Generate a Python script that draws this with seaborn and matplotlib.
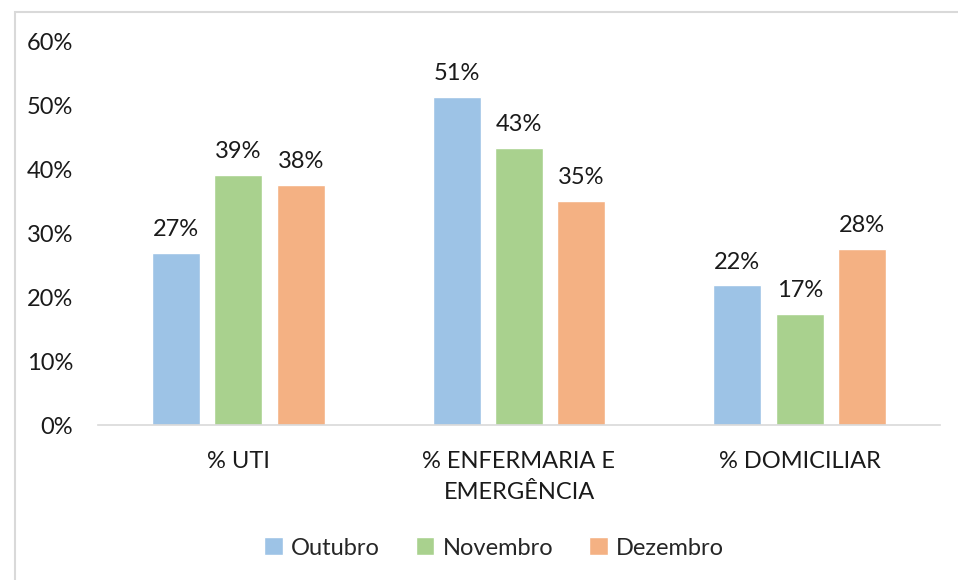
import matplotlib
matplotlib.use("Agg")
import matplotlib.pyplot as plt
from matplotlib.patches import Rectangle
import seaborn as sns
import pandas as pd

categories = ["% UTI", "% ENFERMARIA E\nEMERGÊNCIA", "% DOMICILIAR"]
months = ["Outubro", "Novembro", "Dezembro"]
outubro = [0.270, 0.514, 0.219]
novembro = [0.392, 0.434, 0.174]
dezembro = [0.376, 0.351, 0.276]
colors = ["#9DC3E6", "#A9D18E", "#F4B183"]

df = pd.DataFrame({
    "categoria": categories * 3,
    "mes": [m for m in months for _ in categories],
    "valor": outubro + novembro + dezembro,
})

sns.set_style("white")
plt.rcParams["font.family"] = ["Lato", "DejaVu Sans"]
fs = 17

fig = plt.figure(figsize=(9.58, 5.8), dpi=100)
ax = fig.add_axes([98 / 958, 1 - 425 / 580, (940 - 98) / 958, (425 - 42) / 580])

sns.barplot(data=df, x="categoria", y="valor", hue="mes", order=categories,
            hue_order=months, palette=colors, width=0.667, gap=0.23,
            saturation=1, ax=ax, legend=True)

for cont in ax.containers:
    ax.bar_label(cont, labels=[f"{v * 100:.0f}%" for v in cont.datavalues],
                 padding=9, fontsize=fs, color="#1a1a1a")

ax.set_ylim(0, 0.6)
ax.set_yticks([0, 0.1, 0.2, 0.3, 0.4, 0.5, 0.6])
ax.set_yticklabels([f"{int(t * 100)}%" for t in ax.get_yticks()])
ax.set_xlim(-0.5, 2.5)
ax.set_xlabel("")
ax.set_ylabel("")
ax.tick_params(axis="both", labelsize=fs, colors="#1a1a1a", length=0)
ax.tick_params(axis="y", pad=18)
ax.tick_params(axis="x", pad=19)
for lbl in ax.get_xticklabels():
    lbl.set_linespacing(1.55)
for s in ["top", "right", "left"]:
    ax.spines[s].set_visible(False)
ax.spines["bottom"].set_color("#d9d9d9")
ax.spines["bottom"].set_linewidth(1.2)

handles, labels = ax.get_legend_handles_labels()
ax.legend_.remove()
fig.legend(handles, labels, loc="center", bbox_to_anchor=(494 / 958, 1 - 548 / 580),
           ncol=3, frameon=False, fontsize=fs, handlelength=0.8, handleheight=0.8,
           handletextpad=0.35, columnspacing=1.5)

fig.patches.append(Rectangle((15 / 958, -0.1), 1.2, 1 - 12 / 580 + 0.1,
                             transform=fig.transFigure, fill=False,
                             edgecolor="#d9d9d9", linewidth=1.5))

fig.savefig("out.png", dpi=100)
